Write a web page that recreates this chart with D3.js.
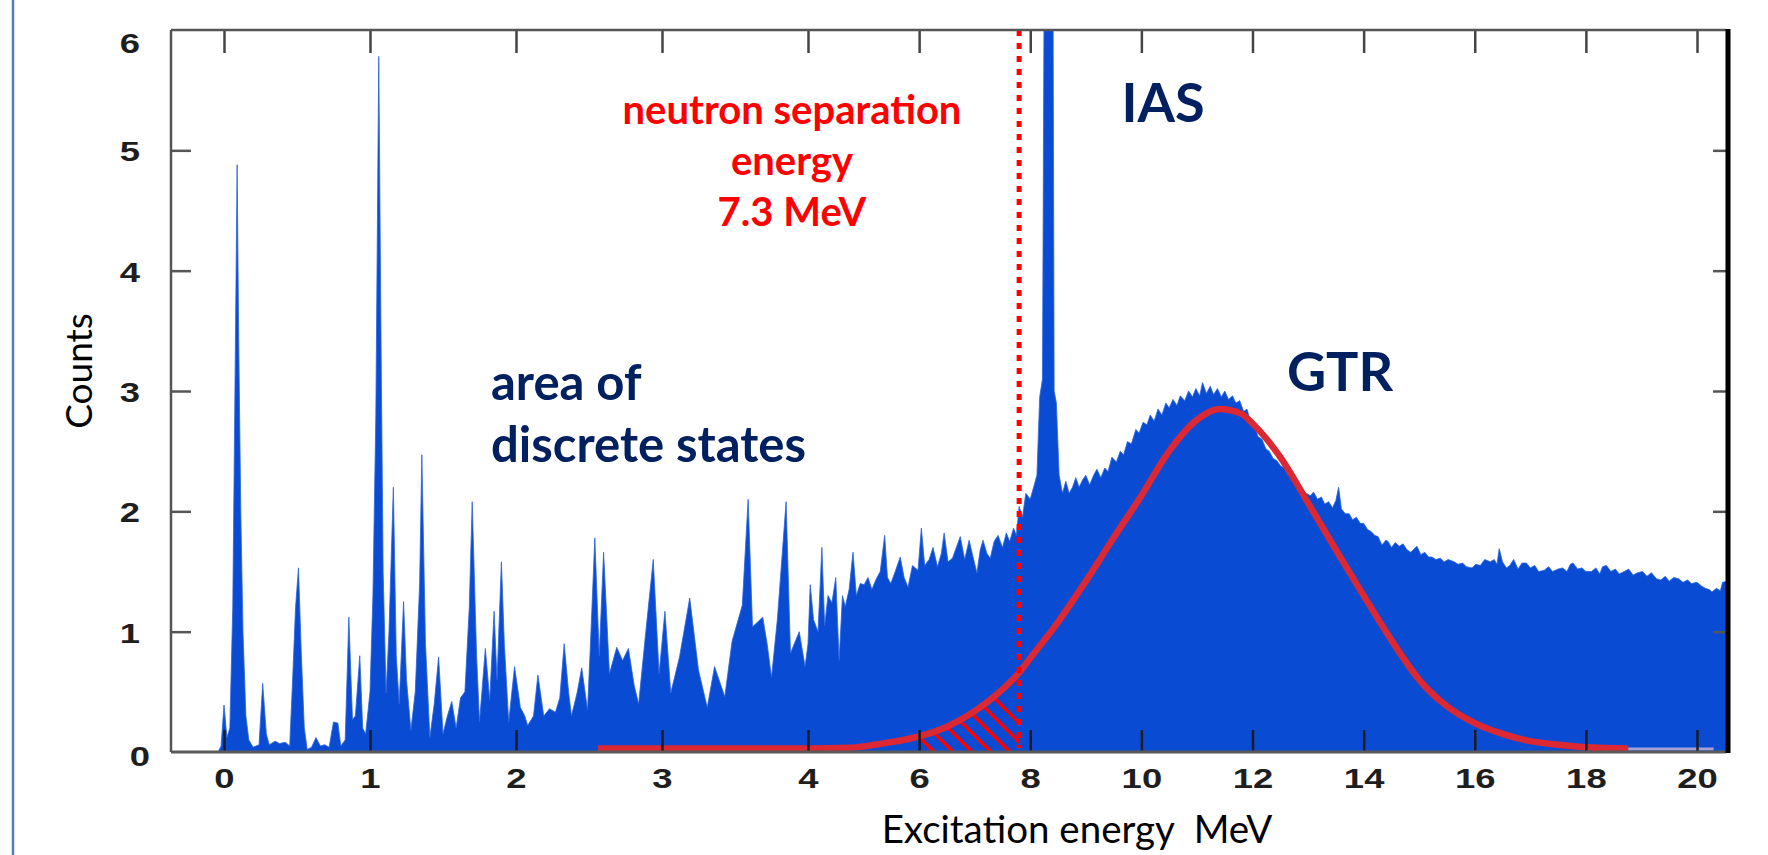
<!DOCTYPE html>
<html>
<head>
<meta charset="utf-8">
<script src="https://cdn.jsdelivr.net/npm/d3@7"></script>
<style>
  body { margin: 0; background: #fff; }
  svg { display: block; }
</style>
</head>
<body>
<div id="chart"></div>
<script>
// tick values (axis is compressed above 4 MeV)
const xTicks = [0, 1, 2, 3, 4, 6, 8, 10, 12, 14, 16, 18, 20];
const yTicks = [0, 1, 2, 3, 4, 5, 6];

// spectrum: [excitation energy MeV, counts]
const discreteStates = [
  [-0.04,0],[-0.02,0.05],[0.0,0.39],[0.02,0.12],[0.04,0.2],[0.06,1.2],[0.075,3.0],[0.09,4.88],[0.1,3.5],
  [0.115,2.0],[0.13,1.0],[0.15,0.3],[0.17,0.1],[0.2,0.04],[0.24,0.06],[0.265,0.57],[0.29,0.15],[0.31,0.06],
  [0.35,0.09],[0.38,0.07],[0.42,0.08],[0.45,0.05],[0.47,0.6],[0.49,1.2],[0.51,1.53],[0.53,0.8],[0.55,0.2],
  [0.57,0.02],[0.6,0.04],[0.63,0.12],[0.66,0.05],[0.69,0.06],[0.72,0.04],[0.75,0.25],[0.78,0.24],[0.8,0.05],
  [0.83,0.1],[0.855,1.12],[0.88,0.27],[0.9,0.3],[0.93,0.8],[0.95,0.2],[0.97,0.15],[1.0,0.5],[1.02,1.3],
  [1.04,2.8],[1.06,5.78],[1.075,3.5],[1.09,1.5],[1.11,0.49],[1.13,1.0],[1.16,2.2],[1.18,0.8],[1.2,0.4],
  [1.23,1.25],[1.25,0.6],[1.28,0.18],[1.31,0.5],[1.34,1.4],[1.355,2.47],[1.38,0.9],[1.41,0.12],[1.44,0.4],
  [1.47,0.79],[1.5,0.15],[1.53,0.3],[1.56,0.42],[1.59,0.2],[1.62,0.45],[1.65,0.5],[1.68,1.2],[1.7,2.08],
  [1.73,0.8],[1.75,0.25],[1.79,0.86],[1.82,0.43],[1.85,1.17],[1.87,0.6],[1.9,1.58],[1.92,0.9],[1.95,0.25],
  [1.99,0.71],[2.03,0.37],[2.06,0.3],[2.08,0.22],[2.12,0.3],[2.15,0.64],[2.19,0.3],[2.23,0.36],[2.27,0.33],
  [2.3,0.45],[2.33,0.9],[2.36,0.5],[2.38,0.3],[2.42,0.5],[2.45,0.7],[2.49,0.35],[2.51,0.9],[2.54,1.78],
  [2.57,0.8],[2.6,1.66],[2.64,0.65],[2.69,0.87],[2.73,0.76],[2.77,0.86],[2.81,0.55],[2.84,0.4],[2.89,1.01],
  [2.94,1.6],[2.98,0.65],[3.02,1.17],[3.06,0.49],[3.12,0.79],[3.19,1.28],[3.25,0.68],[3.31,0.37],[3.36,0.71],
  [3.43,0.46],[3.48,0.92],[3.55,1.22],[3.59,2.1],[3.62,1.04],[3.69,1.12],[3.72,0.9],[3.75,0.62],[3.79,1.1],
  [3.85,2.08],[3.88,0.82],[3.94,1.0],[3.98,0.71]
];

const continuum = [
  [4.0,0.9],[4.04,1.39],[4.1,1.1],[4.18,1.0],[4.25,1.7],[4.3,1.05],[4.36,1.3],[4.43,1.24],[4.5,1.45],
  [4.56,0.76],[4.62,1.3],[4.67,1.21],[4.74,1.35],[4.81,1.66],[4.87,1.3],[4.94,1.4],[5.01,1.39],[5.08,1.45],
  [5.15,1.35],[5.22,1.43],[5.3,1.5],[5.38,1.8],[5.43,1.45],[5.49,1.4],[5.57,1.5],[5.66,1.62],[5.73,1.45],
  [5.8,1.37],[5.88,1.55],[5.98,1.51],[6.04,1.86],[6.1,1.55],[6.18,1.6],[6.25,1.7],[6.33,1.54],[6.4,1.65],
  [6.45,1.82],[6.52,1.58],[6.6,1.61],[6.67,1.7],[6.74,1.79],[6.82,1.6],[6.9,1.76],[6.97,1.62],[7.04,1.49],
  [7.1,1.68],[7.15,1.76],[7.22,1.65],[7.28,1.61],[7.35,1.75],[7.42,1.8],[7.5,1.7],[7.57,1.82],[7.63,1.75],
  [7.7,1.86],[7.75,1.8],[7.8,2.04],[7.86,1.95],[7.92,2.15],[8.0,2.1],[8.06,2.2],[8.12,2.3],[8.17,2.95],
  [8.22,3.1],[8.25,6.4],[8.41,6.4],[8.43,3.0],[8.47,2.9],[8.52,2.3],[8.58,2.15],[8.64,2.25],[8.7,2.15],
  [8.76,2.2],[8.82,2.28],[8.88,2.2],[8.94,2.26],[9.0,2.3],[9.07,2.22],[9.14,2.3],[9.2,2.35],[9.27,2.28],
  [9.34,2.36],[9.4,2.33],[9.47,2.45],[9.55,2.41],[9.62,2.5],[9.68,2.47],[9.75,2.58],[9.82,2.56],[9.9,2.68],
  [9.96,2.65],[10.03,2.74],[10.1,2.72],[10.16,2.8],[10.23,2.75],[10.3,2.85],[10.37,2.8],[10.44,2.9],
  [10.5,2.86],[10.57,2.93],[10.64,2.88],[10.7,2.96],[10.78,2.92],[10.85,3.0],[10.92,2.95],[10.98,3.02],
  [11.05,2.96],[11.1,3.07],[11.17,2.98],[11.24,3.04],[11.3,2.97],[11.37,3.02],[11.44,2.95],[11.5,3.0],
  [11.57,2.93],[11.64,2.96],[11.7,2.9],[11.77,2.92],[11.84,2.83],[11.9,2.85],[11.97,2.74],[12.04,2.7],
  [12.1,2.62],[12.17,2.6],[12.24,2.52],[12.3,2.5],[12.37,2.44],[12.44,2.42],[12.5,2.38],[12.57,2.36],
  [12.64,2.3],[12.7,2.3],[12.77,2.24],[12.84,2.22],[12.9,2.17],[12.97,2.15],[13.04,2.13],[13.1,2.16],
  [13.17,2.1],[13.24,2.12],[13.3,2.06],[13.37,2.08],[13.44,2.03],[13.5,2.09],[13.55,2.2],[13.6,2.02],
  [13.67,1.98],[13.74,1.98],[13.8,1.93],[13.87,1.95],[13.94,1.9],[14.0,1.9],[14.07,1.85],[14.14,1.83],
  [14.2,1.8],[14.26,1.79],[14.33,1.72],[14.4,1.76],[14.44,1.75],[14.5,1.7],[14.57,1.74],[14.64,1.71],
  [14.71,1.73],[14.78,1.68],[14.85,1.66],[14.96,1.71],[15.03,1.64],[15.1,1.66],[15.17,1.62],[15.23,1.62],
  [15.3,1.6],[15.38,1.61],[15.45,1.58],[15.52,1.6],[15.63,1.58],[15.7,1.56],[15.78,1.57],[15.85,1.54],
  [15.95,1.53],[16.02,1.56],[16.1,1.55],[16.18,1.6],[16.28,1.58],[16.35,1.6],[16.4,1.56],[16.44,1.69],
  [16.5,1.58],[16.57,1.53],[16.63,1.55],[16.7,1.6],[16.78,1.52],[16.85,1.57],[16.93,1.57],[17.0,1.53],
  [17.08,1.55],[17.15,1.5],[17.25,1.51],[17.33,1.54],[17.4,1.5],[17.5,1.52],[17.58,1.53],[17.66,1.5],
  [17.72,1.56],[17.77,1.57],[17.85,1.52],[17.93,1.53],[18.0,1.5],[18.1,1.5],[18.18,1.53],[18.25,1.48],
  [18.3,1.54],[18.37,1.55],[18.45,1.5],[18.53,1.52],[18.6,1.48],[18.69,1.5],[18.77,1.52],[18.85,1.47],
  [18.93,1.49],[19.02,1.5],[19.1,1.46],[19.18,1.49],[19.27,1.44],[19.35,1.43],[19.43,1.46],[19.5,1.42],
  [19.58,1.45],[19.67,1.44],[19.75,1.41],[19.83,1.43],[19.9,1.4],[20.0,1.41],[20.08,1.38],[20.15,1.36],
  [20.22,1.35],[20.27,1.33],[20.35,1.36],[20.42,1.34],[20.46,1.41],[20.55,1.42]
];

// GTR fit curve (red)
const gtrFit = [
  [2.56,0.03],[3,0.03],[4,0.03],[4.75,0.035],[5.2,0.06],[5.6,0.09],[6.0,0.13],[6.5,0.21],[7.0,0.34],
  [7.5,0.52],[7.8,0.66],[8.0,0.78],[8.5,1.08],[9.0,1.42],[9.5,1.78],[10.0,2.13],[10.5,2.5],[11.0,2.76],
  [11.4,2.85],[11.8,2.81],[12.0,2.73],[12.5,2.45],[13.0,2.07],[13.5,1.68],[14.0,1.3],[14.5,0.93],[15.0,0.6],
  [15.5,0.38],[16.0,0.24],[16.5,0.15],[17.0,0.09],[17.5,0.06],[18.0,0.04],[18.76,0.03]
];
const fitTail = [[18.76,0.025],[20.3,0.025]];

const separationEnergy = 7.8;   // where the dashed line sits on this axis
const hatchFrom = 6.0;

const width = 1768, height = 855;
const plot = {left: 171, right: 1728, top: 30, bottom: 752};

const svg = d3.select("#chart").append("svg")
  .attr("width", width).attr("height", height);

// piecewise axis: 1 MeV per step below 4, 2 MeV per step above
const x = d3.scaleLinear().domain([0, 4, 20]).range([224, 808, 1697]);
const y = d3.scaleLinear().domain([0, 6]).range([plot.bottom, plot.top]);

// slide border on the left
svg.append("line").attr("x1", 13).attr("x2", 13).attr("y1", 0).attr("y2", height)
  .attr("stroke", "#4f7fc0").attr("stroke-width", 2.5);

const defs = svg.append("defs");
defs.append("clipPath").attr("id", "plotclip").append("rect")
  .attr("x", plot.left).attr("y", plot.top)
  .attr("width", plot.right - plot.left).attr("height", plot.bottom - plot.top);

const spectrum = discreteStates.concat(continuum);

const area = d3.area()
  .x(d => x(d[0]))
  .y0(y(0))
  .y1(d => y(d[1]));

svg.append("path")
  .datum(spectrum)
  .attr("clip-path", "url(#plotclip)")
  .attr("d", area)
  .attr("fill", "#0a4bd4")
  .attr("stroke", "#2a63dc")
  .attr("stroke-width", 0.8);

// hatched region under the fit, below the separation energy
const line = d3.line().x(d => x(d[0])).y(d => y(d[1])).curve(d3.curveMonotoneX);
const hatchPts = gtrFit.filter(d => d[0] >= hatchFrom && d[0] <= separationEnergy);
defs.append("clipPath").attr("id", "hatchclip").append("path")
  .datum(hatchPts)
  .attr("d", d3.area().x(d => x(d[0])).y0(y(0)).y1(d => y(d[1])).curve(d3.curveMonotoneX));

const hatch = svg.append("g").attr("clip-path", "url(#hatchclip)");
d3.range(0, 7).forEach(i => {
  const bx = x(hatchFrom) + 15 + i * 19;
  hatch.append("line")
    .attr("x1", bx - 120).attr("y1", y(0) - 120)
    .attr("x2", bx).attr("y2", y(0))
    .attr("stroke", "#ff0000").attr("stroke-width", 3.5);
});

// fit curve
svg.append("path").datum(fitTail).attr("d", line)
  .attr("fill", "none").attr("stroke", "#a79fd6").attr("stroke-width", 3);
svg.append("path").datum(gtrFit).attr("d", line)
  .attr("fill", "none").attr("stroke", "#dc2832").attr("stroke-width", 6.5)
  .attr("stroke-linejoin", "round");

// neutron separation energy marker
svg.append("line")
  .attr("x1", x(separationEnergy)).attr("x2", x(separationEnergy))
  .attr("y1", plot.top).attr("y2", y(0) - 4)
  .attr("stroke", "#ff0000").attr("stroke-width", 5)
  .attr("stroke-dasharray", "6,7");

// axes (inward ticks)
const tickFont = "'Liberation Sans', Arial, sans-serif";
const stretch = "scale(1.35,1)";

const xAxisB = svg.append("g").attr("transform", `translate(0,${plot.bottom})`)
  .call(d3.axisBottom(x).tickValues(xTicks).tickSizeInner(-22).tickSizeOuter(0).tickPadding(17));
xAxisB.attr("font-size", 27).attr("font-family", tickFont).attr("font-weight", "bold");
xAxisB.select(".domain").remove();
xAxisB.selectAll(".tick line").attr("stroke", "#1a1a22").attr("stroke-width", 2.5);
xAxisB.selectAll("text")
  .attr("transform", stretch)
  .attr("fill", "#1e1e1e");

const xAxisT = svg.append("g").attr("transform", `translate(0,${plot.top})`)
  .call(d3.axisTop(x).tickValues(xTicks).tickSizeInner(-23).tickSizeOuter(0).tickFormat(""));
xAxisT.select(".domain").remove();
xAxisT.selectAll(".tick line").attr("stroke", "#444").attr("stroke-width", 2.5);

const yAxisL = svg.append("g").attr("transform", `translate(${plot.left},0)`)
  .call(d3.axisLeft(y).tickValues(yTicks).tickFormat(d3.format("d"))
    .tickSizeInner(-20).tickSizeOuter(0).tickPadding(23));
yAxisL.attr("font-size", 27).attr("font-family", tickFont).attr("font-weight", "bold");
yAxisL.select(".domain").remove();
yAxisL.selectAll(".tick line").attr("stroke", "#555").attr("stroke-width", 2.5)
  .attr("opacity", d => (d === 0 || d === 6) ? 0 : 1);
yAxisL.selectAll("text")
  .attr("transform", stretch)
  .attr("x", d => d === 0 ? -15.5 : -23)
  .attr("y", d => d === 6 ? 14 : d === 0 ? 5 : 2)
  .attr("fill", "#1e1e1e");

const yAxisR = svg.append("g").attr("transform", `translate(${plot.right},0)`)
  .call(d3.axisRight(y).tickValues([1, 2, 3, 4, 5]).tickSizeInner(-15).tickSizeOuter(0).tickFormat(""));
yAxisR.select(".domain").remove();
yAxisR.selectAll(".tick line").attr("stroke", "#555").attr("stroke-width", 2.5);

// frame
const frame = svg.append("g");
frame.append("line").attr("x1", plot.left).attr("x2", plot.right - 2)
  .attr("y1", plot.top).attr("y2", plot.top)
  .attr("stroke", "#555").attr("stroke-width", 2.5);
frame.append("line").attr("x1", plot.left).attr("x2", plot.right - 2)
  .attr("y1", plot.bottom).attr("y2", plot.bottom)
  .attr("stroke", "#5a5a5a").attr("stroke-width", 3);
frame.append("line").attr("x1", plot.left).attr("x2", plot.left)
  .attr("y1", plot.top).attr("y2", plot.bottom)
  .attr("stroke", "#555").attr("stroke-width", 2.5);
frame.append("line").attr("x1", plot.right).attr("x2", plot.right)
  .attr("y1", plot.top - 1).attr("y2", plot.bottom + 1)
  .attr("stroke", "#000").attr("stroke-width", 5);

// axis titles
const textFont = "Lato, 'Open Sans', sans-serif";
svg.append("text")
  .attr("transform", "translate(92,371) rotate(-90)")
  .attr("text-anchor", "middle")
  .style("font-family", textFont).style("font-size", "37px").attr("fill", "#000")
  .text("Counts");
svg.append("text")
  .attr("x", 1077).attr("y", 843)
  .attr("text-anchor", "middle")
  .style("font-family", textFont).style("font-size", "38.5px").attr("fill", "#000")
  .style("white-space", "pre")
  .text("Excitation energy  MeV");

// annotations
const note = (lines, cx, y0, dy, size, color, anchor) => {
  const t = svg.append("text")
    .attr("text-anchor", anchor)
    .style("font-family", textFont).style("font-weight", "bold")
    .style("font-size", size + "px").attr("fill", color);
  lines.forEach((s, i) => t.append("tspan").attr("x", cx).attr("y", y0 + i * dy).text(s));
};
note(["neutron separation", "energy", "7.3 MeV"], 792, 124, 51, 40, "#ff0000", "middle");
note(["IAS"], 1163, 122, 0, 54, "#002060", "middle");
note(["GTR"], 1340, 391, 0, 54, "#002060", "middle");
note(["area of", "discrete states"], 491, 400, 62, 49, "#002060", "start");
</script>
</body>
</html>
